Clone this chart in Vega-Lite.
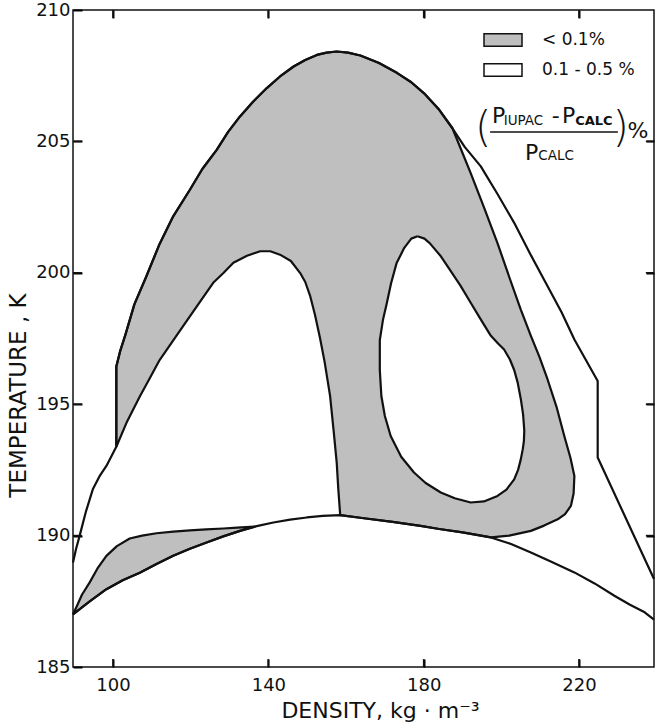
{
  "$schema": "https://vega.github.io/schema/vega-lite/v6.json",
  "width": 581,
  "height": 657,
  "autosize": {"type": "none"},
  "padding": {"left": 73, "top": 10, "right": 2, "bottom": 61},
  "background": "white",
  "config": {
    "view": {"stroke": "#111", "strokeWidth": 1.5},
    "font": "DejaVu Sans",
    "axis": {"grid": false, "domain": false, "ticks": true, "tickColor": "black", "tickWidth": 2, "tickOpacity": 1, "zindex": 1, "labelFont": "DejaVu Sans", "labelFontSize": 18, "labelColor": "#111", "titleFont": "DejaVu Sans", "titleFontSize": 22, "titleFontWeight": "normal", "titleColor": "#111"}
  },
  "data": {"values": [{}]},
  "datasets": {
    "xticks": [{"v": 100}, {"v": 140}, {"v": 180}, {"v": 220}],
    "yticks": [{"v": 190}, {"v": 195}, {"v": 200}, {"v": 205}],
    "shade": [
      {"x":100.85,"y":193.38},{"x":100.85,"y":196.43},{"x":101.8,"y":197.0},{"x":103.2,"y":197.65},{"x":105.5,"y":198.8},{"x":108.6,"y":199.87},{"x":112.0,"y":201.1},{"x":115.5,"y":202.15},{"x":119.8,"y":203.16},{"x":123.0,"y":203.95},{"x":126.7,"y":204.68},{"x":129.6,"y":205.35},{"x":132.7,"y":205.95},{"x":136.0,"y":206.5},{"x":139.6,"y":207.03},{"x":143.0,"y":207.47},{"x":146.5,"y":207.85},{"x":149.5,"y":208.1},{"x":152.5,"y":208.29},{"x":155.0,"y":208.38},{"x":157.6,"y":208.42},{"x":160.5,"y":208.38},{"x":163.7,"y":208.27},{"x":168.5,"y":207.98},{"x":173.2,"y":207.6},{"x":176.8,"y":207.25},{"x":180.1,"y":206.83},{"x":184.0,"y":206.2},{"x":187.4,"y":205.5},
      {"x":189.6,"y":204.7},{"x":192.1,"y":203.79},{"x":195.5,"y":202.5},{"x":199.0,"y":201.13},{"x":202.0,"y":199.85},{"x":205.0,"y":198.6},{"x":207.6,"y":197.6},{"x":209.8,"y":196.8},{"x":211.9,"y":195.94},{"x":214.2,"y":194.9},{"x":216.2,"y":193.79},{"x":217.8,"y":192.95},{"x":218.8,"y":192.27},{"x":218.6,"y":191.6},{"x":217.9,"y":191.13},{"x":216.4,"y":190.82},{"x":214.5,"y":190.62},{"x":211.0,"y":190.38},{"x":207.6,"y":190.18},{"x":202.0,"y":190.0},{"x":197.3,"y":189.93},
      {"x":190.0,"y":190.12},{"x":184.0,"y":190.25},{"x":179.2,"y":190.37},{"x":172.0,"y":190.52},{"x":164.6,"y":190.66},{"x":158.5,"y":190.78},
      {"x":158.0,"y":191.8},{"x":157.6,"y":192.78},{"x":156.8,"y":194.0},{"x":155.9,"y":195.31},{"x":154.5,"y":196.6},{"x":153.3,"y":197.52},{"x":152.0,"y":198.4},{"x":150.8,"y":199.1},{"x":149.5,"y":199.65},{"x":148.2,"y":199.99},{"x":145.8,"y":200.45},{"x":143.0,"y":200.69},{"x":140.5,"y":200.82},{"x":137.9,"y":200.82},{"x":134.5,"y":200.65},{"x":131.0,"y":200.38},{"x":128.5,"y":200.0},{"x":125.8,"y":199.62},{"x":121.0,"y":198.6},{"x":116.8,"y":197.7},{"x":112.0,"y":196.68},{"x":109.5,"y":196.0},{"x":106.9,"y":195.29},{"x":103.5,"y":194.3},{"x":100.85,"y":193.38}
    ],
    "sliver": [
      {"x":89.7,"y":187.0},{"x":90.8,"y":187.35},{"x":92.0,"y":187.75},{"x":94.0,"y":188.22},{"x":96.0,"y":188.75},{"x":98.3,"y":189.23},{"x":101.0,"y":189.6},{"x":104.3,"y":189.89},{"x":107.5,"y":190.0},{"x":111.2,"y":190.09},{"x":115.5,"y":190.15},{"x":119.8,"y":190.2},{"x":124.0,"y":190.24},{"x":128.4,"y":190.27},{"x":132.0,"y":190.3},{"x":136.5,"y":190.34},
      {"x":132.7,"y":190.18},{"x":128.4,"y":189.97},{"x":124.1,"y":189.74},{"x":119.8,"y":189.5},{"x":115.5,"y":189.23},{"x":111.2,"y":188.92},{"x":106.9,"y":188.59},{"x":102.5,"y":188.3},{"x":98.3,"y":187.96},{"x":94.0,"y":187.5},{"x":89.7,"y":187.0}
    ],
    "hole": [
      {"x":178.4,"y":201.39},{"x":180.2,"y":201.3},{"x":181.6,"y":201.12},{"x":184.3,"y":200.65},{"x":186.8,"y":200.1},{"x":189.5,"y":199.5},{"x":192.1,"y":198.86},{"x":194.8,"y":198.2},{"x":197.3,"y":197.6},{"x":199.2,"y":197.3},{"x":200.7,"y":197.08},{"x":202.2,"y":196.7},{"x":203.3,"y":196.3},{"x":204.2,"y":195.82},{"x":205.0,"y":195.2},{"x":205.6,"y":194.6},{"x":205.9,"y":194.0},{"x":205.8,"y":193.6},{"x":205.5,"y":193.28},{"x":205.0,"y":192.9},{"x":204.3,"y":192.5},{"x":203.3,"y":192.14},{"x":201.3,"y":191.75},{"x":199.0,"y":191.51},{"x":195.5,"y":191.3},{"x":192.1,"y":191.26},{"x":188.0,"y":191.42},{"x":184.4,"y":191.64},{"x":180.5,"y":192.0},{"x":177.5,"y":192.4},{"x":174.2,"y":193.0},{"x":171.5,"y":193.79},{"x":170.0,"y":194.55},{"x":169.1,"y":195.31},{"x":168.7,"y":196.3},{"x":168.7,"y":197.44},{"x":169.5,"y":198.2},{"x":170.5,"y":198.84},{"x":171.6,"y":199.6},{"x":173.0,"y":200.36},{"x":175.0,"y":200.95},{"x":176.8,"y":201.3},{"x":178.4,"y":201.39}
    ],
    "outer": [
      {"x":89.7,"y":188.98},{"x":90.5,"y":189.5},{"x":91.4,"y":189.99},{"x":93.0,"y":190.9},{"x":94.8,"y":191.76},{"x":96.5,"y":192.25},{"x":98.3,"y":192.65},{"x":100.85,"y":193.38},{"x":100.85,"y":196.43},{"x":101.8,"y":197.0},{"x":103.2,"y":197.65},{"x":105.5,"y":198.8},{"x":108.6,"y":199.87},{"x":112.0,"y":201.1},{"x":115.5,"y":202.15},{"x":119.8,"y":203.16},{"x":123.0,"y":203.95},{"x":126.7,"y":204.68},{"x":129.6,"y":205.35},{"x":132.7,"y":205.95},{"x":136.0,"y":206.5},{"x":139.6,"y":207.03},{"x":143.0,"y":207.47},{"x":146.5,"y":207.85},{"x":149.5,"y":208.1},{"x":152.5,"y":208.29},{"x":155.0,"y":208.38},{"x":157.6,"y":208.42},{"x":160.5,"y":208.38},{"x":163.7,"y":208.27},{"x":168.5,"y":207.98},{"x":173.2,"y":207.6},{"x":176.8,"y":207.25},{"x":180.1,"y":206.83},{"x":184.0,"y":206.2},{"x":187.4,"y":205.5},
      {"x":190.5,"y":204.8},{"x":194.7,"y":204.05},{"x":199.0,"y":203.0},{"x":203.3,"y":201.9},{"x":207.5,"y":200.7},{"x":211.9,"y":199.49},{"x":215.5,"y":198.5},{"x":218.8,"y":197.46},{"x":224.8,"y":195.88},{"x":224.8,"y":192.97},{"x":239.3,"y":188.35}
    ],
    "bottom": [
      {"x":89.7,"y":187.0},{"x":94.0,"y":187.5},{"x":98.3,"y":187.96},{"x":102.5,"y":188.3},{"x":106.9,"y":188.59},{"x":111.2,"y":188.92},{"x":115.5,"y":189.23},{"x":119.8,"y":189.5},{"x":124.1,"y":189.74},{"x":128.4,"y":189.97},{"x":132.7,"y":190.18},{"x":137.0,"y":190.36},{"x":141.3,"y":190.5},{"x":145.6,"y":190.61},{"x":149.9,"y":190.69},{"x":154.0,"y":190.75},{"x":158.5,"y":190.78},{"x":164.6,"y":190.66},{"x":172.0,"y":190.52},{"x":179.2,"y":190.37},{"x":184.0,"y":190.25},{"x":190.0,"y":190.12},{"x":197.3,"y":189.93},{"x":202.5,"y":189.68},{"x":207.6,"y":189.36},{"x":213.0,"y":189.0},{"x":218.8,"y":188.6},{"x":224.0,"y":188.18},{"x":229.1,"y":187.71},{"x":233.0,"y":187.38},{"x":236.9,"y":187.08},{"x":239.3,"y":186.8}
    ]
  },
  "resolve": {"axis": {"x": "independent", "y": "independent"}},
  "layer": [
    {
      "data": {"name": "shade"},
      "mark": {"type": "line", "stroke": "#111", "strokeWidth": 2.2, "strokeJoin": "round"},
      "encoding": {
        "x": {"field": "x", "type": "quantitative", "scale": {"domain": [89.7, 239.3], "nice": false, "zero": false},
              "axis": {"orient": "bottom", "values": [100, 140, 180, 220], "offset": -8, "tickSize": 8, "labelPadding": 9, "title": "DENSITY,  kg · m⁻³", "titleX": 307, "titleY": 58, "titleBaseline": "alphabetic"}},
        "y": {"field": "y", "type": "quantitative", "scale": {"domain": [185, 210], "nice": false, "zero": false},
              "axis": {"orient": "left", "values": [185, 190, 195, 200, 205, 210], "offset": -9, "tickSize": 9, "labelPadding": 3, "title": "TEMPERATURE ,  K", "titleFontSize": 23, "titleX": -57, "titleY": 385, "titleBaseline": "alphabetic", "titleAngle": -90}},
        "order": {"value": null},
        "fill": {"datum": "< 0.1%", "type": "nominal",
                 "scale": {"domain": ["< 0.1%", "0.1 - 0.5 %"], "range": ["#bfbfbf", "#ffffff"]},
                 "legend": {"orient": "none", "legendX": 410, "legendY": 10, "title": null, "padding": 0,
                            "symbolType": "M-1,-0.33H1V0.33H-1Z", "symbolSize": 1444, "symbolStrokeColor": "#111", "symbolStrokeWidth": 1.5,
                            "labelFont": "DejaVu Sans", "labelFontSize": 17, "labelColor": "#111", "labelOffset": 19, "rowPadding": -1}}
      }
    },
    {
      "data": {"name": "sliver"},
      "mark": {"type": "line", "stroke": "#111", "strokeWidth": 2.2, "strokeJoin": "round"},
      "encoding": {
        "x": {"field": "x", "type": "quantitative", "axis": null},
        "y": {"field": "y", "type": "quantitative", "axis": null},
        "order": {"value": null},
        "fill": {"datum": "< 0.1%", "type": "nominal"}
      }
    },
    {
      "data": {"name": "hole"},
      "mark": {"type": "line", "stroke": "#111", "strokeWidth": 2.2, "strokeJoin": "round"},
      "encoding": {
        "x": {"field": "x", "type": "quantitative", "axis": null},
        "y": {"field": "y", "type": "quantitative", "axis": null},
        "order": {"value": null},
        "fill": {"datum": "0.1 - 0.5 %", "type": "nominal"}
      }
    },
    {
      "data": {"name": "outer"},
      "mark": {"type": "line", "stroke": "#111", "strokeWidth": 2.2, "strokeJoin": "round"},
      "encoding": {
        "x": {"field": "x", "type": "quantitative", "axis": {"orient": "top", "values": [100, 140, 180, 220], "offset": -8, "tickSize": 8, "labels": false, "title": null}},
        "y": {"field": "y", "type": "quantitative", "axis": {"orient": "right", "values": [190, 195, 200, 205], "offset": -8, "tickSize": 8, "labels": false, "title": null}},
        "order": {"value": null}
      }
    },
    {
      "data": {"name": "bottom"},
      "mark": {"type": "line", "stroke": "#111", "strokeWidth": 2.2, "strokeJoin": "round"},
      "encoding": {
        "x": {"field": "x", "type": "quantitative", "axis": null},
        "y": {"field": "y", "type": "quantitative", "axis": null},
        "order": {"value": null}
      }
    },
    {
      "data": {"name": "xticks"},
      "mark": {"type": "rule", "stroke": "#111", "strokeWidth": 1.6},
      "encoding": {"x": {"field": "v", "type": "quantitative", "axis": null}, "y": {"datum": 185, "type": "quantitative", "axis": null}, "y2": {"datum": 185.3}}
    },
    {
      "data": {"name": "xticks"},
      "mark": {"type": "rule", "stroke": "#111", "strokeWidth": 1.6},
      "encoding": {"x": {"field": "v", "type": "quantitative", "axis": null}, "y": {"datum": 210, "type": "quantitative", "axis": null}, "y2": {"datum": 209.7}}
    },
    {
      "data": {"name": "yticks"},
      "mark": {"type": "rule", "stroke": "#111", "strokeWidth": 1.6},
      "encoding": {"y": {"field": "v", "type": "quantitative", "axis": null}, "x": {"datum": 89.7, "type": "quantitative", "axis": null}, "x2": {"datum": 92.0}}
    },
    {
      "data": {"name": "yticks"},
      "mark": {"type": "rule", "stroke": "#111", "strokeWidth": 1.6},
      "encoding": {"y": {"field": "v", "type": "quantitative", "axis": null}, "x": {"datum": 239.3, "type": "quantitative", "axis": null}, "x2": {"datum": 237.2}}
    },
    {
      "mark": {"type": "text", "text": "(", "fontSize": 42, "align": "left", "baseline": "alphabetic", "font": "DejaVu Sans", "fontWeight": 300, "color": "#111"},
      "encoding": {"x": {"datum": 193.2, "type": "quantitative", "axis": null}, "y": {"datum": 204.98, "type": "quantitative", "axis": null}}
    },
    {
      "mark": {"type": "text", "text": "P", "fontSize": 22, "align": "left", "baseline": "alphabetic", "font": "DejaVu Sans", "color": "#111"},
      "encoding": {"x": {"datum": 197.58, "type": "quantitative", "axis": null}, "y": {"datum": 205.7, "type": "quantitative", "axis": null}}
    },
    {
      "mark": {"type": "text", "text": "IUPAC", "fontSize": 13.5, "align": "left", "baseline": "alphabetic", "font": "DejaVu Sans", "color": "#111"},
      "encoding": {"x": {"datum": 200.6, "type": "quantitative", "axis": null}, "y": {"datum": 205.62, "type": "quantitative", "axis": null}}
    },
    {
      "mark": {"type": "text", "text": "-", "fontSize": 22, "align": "center", "baseline": "alphabetic", "font": "DejaVu Sans", "color": "#111"},
      "encoding": {"x": {"datum": 214.0, "type": "quantitative", "axis": null}, "y": {"datum": 205.7, "type": "quantitative", "axis": null}}
    },
    {
      "mark": {"type": "text", "text": "P", "fontSize": 22, "align": "left", "baseline": "alphabetic", "font": "DejaVu Sans", "color": "#111"},
      "encoding": {"x": {"datum": 215.6, "type": "quantitative", "axis": null}, "y": {"datum": 205.7, "type": "quantitative", "axis": null}}
    },
    {
      "mark": {"type": "text", "text": "CALC", "fontSize": 13, "fontWeight": "bold", "align": "left", "baseline": "alphabetic", "font": "DejaVu Sans", "color": "#111"},
      "encoding": {"x": {"datum": 219.0, "type": "quantitative", "axis": null}, "y": {"datum": 205.62, "type": "quantitative", "axis": null}}
    },
    {
      "mark": {"type": "rule", "stroke": "#111", "strokeWidth": 1.6},
      "encoding": {"x": {"datum": 197.1, "type": "quantitative", "axis": null}, "x2": {"datum": 230.0}, "y": {"datum": 205.36, "type": "quantitative", "axis": null}}
    },
    {
      "mark": {"type": "text", "text": "P", "fontSize": 22, "align": "left", "baseline": "alphabetic", "font": "DejaVu Sans", "color": "#111"},
      "encoding": {"x": {"datum": 206.07, "type": "quantitative", "axis": null}, "y": {"datum": 204.29, "type": "quantitative", "axis": null}}
    },
    {
      "mark": {"type": "text", "text": "CALC", "fontSize": 13.5, "align": "left", "baseline": "alphabetic", "font": "DejaVu Sans", "color": "#111"},
      "encoding": {"x": {"datum": 209.5, "type": "quantitative", "axis": null}, "y": {"datum": 204.29, "type": "quantitative", "axis": null}}
    },
    {
      "mark": {"type": "text", "text": ")", "fontSize": 42, "align": "left", "baseline": "alphabetic", "font": "DejaVu Sans", "fontWeight": 300, "color": "#111"},
      "encoding": {"x": {"datum": 228.6, "type": "quantitative", "axis": null}, "y": {"datum": 204.98, "type": "quantitative", "axis": null}}
    },
    {
      "mark": {"type": "text", "text": "%", "fontSize": 22, "align": "left", "baseline": "alphabetic", "font": "DejaVu Sans", "color": "#111"},
      "encoding": {"x": {"datum": 232.5, "type": "quantitative", "axis": null}, "y": {"datum": 205.13, "type": "quantitative", "axis": null}}
    }
  ]
}
